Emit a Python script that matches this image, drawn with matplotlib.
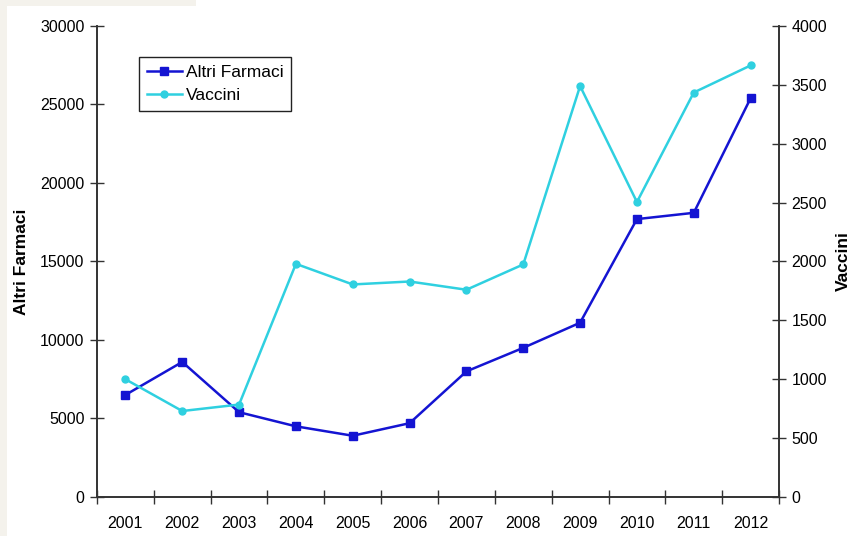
import matplotlib.pyplot as plt
from matplotlib.patches import Rectangle

years = ["2001", "2002", "2003", "2004", "2005", "2006",
         "2007", "2008", "2009", "2010", "2011", "2012"]
altri_farmaci = [6500, 8600, 5400, 4500, 3900, 4700,
                 8000, 9500, 11100, 17700, 18100, 25400]
vaccini = [1000, 730, 785, 1980, 1805, 1830,
           1760, 1975, 3490, 2505, 3435, 3665]

plt.rcParams["font.family"] = ["Liberation Sans", "DejaVu Sans"]

fig = plt.figure(figsize=(8.5, 5.36), dpi=100)
fig.patch.set_facecolor("white")
# thin beige frame on the left and top edges
fig.patches.append(Rectangle((0, 0), 0.008, 1, transform=fig.transFigure,
                             facecolor="#f4f2ec", edgecolor="none", zorder=0))
fig.patches.append(Rectangle((0, 0.988), 0.23, 0.012, transform=fig.transFigure,
                             facecolor="#f4f2ec", edgecolor="none", zorder=0))

ax = fig.add_axes([0.1141, 0.0728, 0.8024, 0.8787])
ax2 = ax.twinx()

x = list(range(len(years)))
l1, = ax.plot(x, altri_farmaci, color="#1414d2", lw=1.8, marker="s",
              markersize=5.5, label="Altri Farmaci", zorder=3)
l2, = ax2.plot(x, vaccini, color="#2fd0e0", lw=1.8, marker="o",
               markersize=5, label="Vaccini", zorder=3)

ax.set_xlim(-0.5, len(years) - 0.5)
ax.set_ylim(0, 30000)
ax2.set_ylim(0, 4000)
ax.set_yticks(range(0, 30001, 5000))
ax2.set_yticks(range(0, 4001, 500))

# years centered between boundary ticks
ax.set_xticks([i - 0.5 for i in range(len(years) + 1)])
ax.set_xticklabels([])
ax.set_xticks(x, minor=True)
ax.set_xticklabels(years, minor=True, fontsize=11.5)
ax.tick_params(axis="x", which="minor", length=0, pad=14)
ax.tick_params(axis="x", which="major", direction="inout", length=10,
               width=1, color="#333333")
ax.tick_params(axis="y", direction="inout", length=10, width=1,
               color="#333333", labelsize=11.5, pad=4)
ax2.tick_params(axis="y", direction="inout", length=10, width=1,
                color="#333333", labelsize=11.5, pad=4)

for a in (ax, ax2):
    a.spines["top"].set_visible(False)
    for s in ("left", "right", "bottom"):
        a.spines[s].set_color("#333333")
        a.spines[s].set_linewidth(1.2)

ax.set_ylabel("Altri Farmaci", fontsize=12.5, fontweight="bold", labelpad=8)
ax2.set_ylabel("Vaccini", fontsize=12.5, fontweight="bold", labelpad=6)

leg = ax.legend([l1, l2], ["Altri Farmaci", "Vaccini"], loc="upper left",
                bbox_to_anchor=(0.0616, 0.934), fontsize=12.5, frameon=True,
                fancybox=False, framealpha=1, edgecolor="#222222",
                handlelength=2.0, handletextpad=0.25, borderpad=0.45,
                labelspacing=0.45, borderaxespad=0)
leg.get_frame().set_linewidth(1.0)

fig.savefig("out.png", dpi=100)
